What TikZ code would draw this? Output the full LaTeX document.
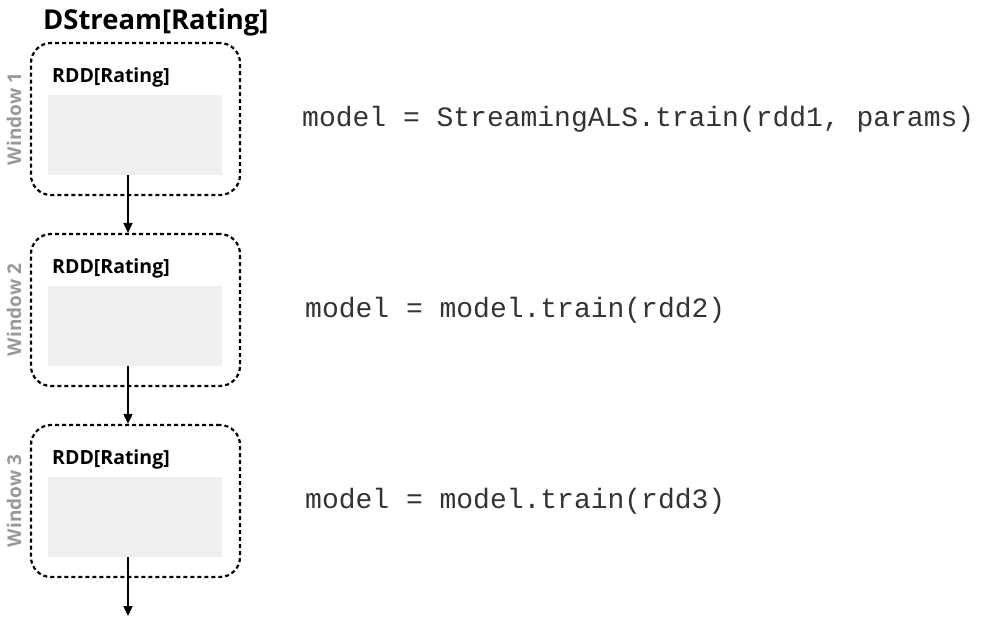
\documentclass[tikz,border=0pt]{standalone}
\usepackage{fontspec}
\setmainfont{Open Sans}
\newfontfamily\codefont{Liberation Mono}
\usetikzlibrary{arrows.meta}
\definecolor{graybox}{HTML}{EFEFEF}
\definecolor{wingray}{HTML}{999999}
\definecolor{codegray}{HTML}{333333}
\tikzset{
  winbox/.style={draw=black, line width=2.2pt, dash pattern=on 4pt off 3pt, rounded corners=20pt,
    minimum width=209pt, minimum height=152pt, inner sep=0pt},
  rddbox/.style={fill=graybox, minimum width=174pt, minimum height=80pt, inner sep=0pt},
  rddlabel/.style={font=\fontsize{19.5}{21}\selectfont\bfseries, anchor=west, inner sep=0pt},
  winlabel/.style={font=\fontsize{19}{21}\selectfont\bfseries, text=wingray, rotate=90, inner sep=0pt},
  code/.style={font=\codefont\fontsize{28}{30}\selectfont, text=codegray, anchor=west, inner sep=0pt},
  flow/.style={line width=1.8pt, -{Triangle[length=10pt,width=9pt]}},
}
\begin{document}
\begin{tikzpicture}[x=1pt,y=-1pt]
\useasboundingbox (0,0) rectangle (989,632);
\node[font=\fontsize{27.4}{30}\selectfont\bfseries, anchor=west, inner sep=0pt] (title) at (43,22) {DStream[Rating]};
\foreach \i/\y in {1/119,2/310,3/501}{
  \node[winbox] (w\i) at (135.5,\y) {};
  \node[rddbox] (g\i) at (135,\y+16) {};
  \node[rddlabel] (r\i) at (52,\y-42) {RDD[Rating]};
  \node[winlabel] (l\i) at (14,\y) {Window \i};
}
\node[code] (c1) at (302,119) {model = StreamingALS.train(rdd1, params)};
\node[code] (c2) at (305,310) {model = model.train(rdd2)};
\node[code] (c3) at (305,501) {model = model.train(rdd3)};
\coordinate (end) at (128,616);
\draw[flow] (g1.south -| 128,0) -- (w2.north -| 128,0);
\draw[flow] (g2.south -| 128,0) -- (w3.north -| 128,0);
\draw[flow] (g3.south -| 128,0) -- (end);
\end{tikzpicture}
\end{document}
